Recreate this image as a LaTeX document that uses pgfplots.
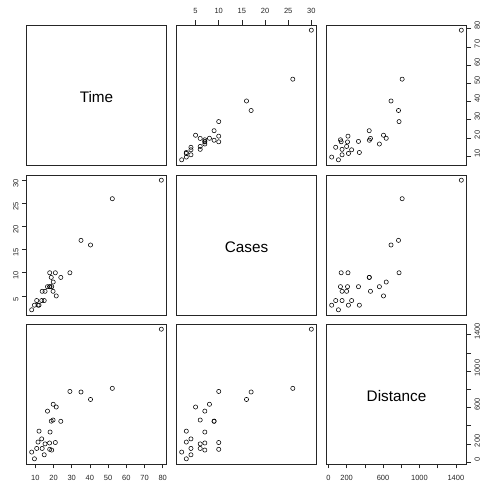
\documentclass[border=0pt]{standalone}
\usepackage{fontspec}
\setmainfont{Liberation Sans}
\usepackage{pgfplots}
\usepackage{pgfplotstable}
\pgfplotsset{compat=1.18}
\pgfplotstableread{
T C D
16.68 7 560
11.50 3 220
12.03 3 340
14.88 4 80
13.75 6 150
18.11 7 330
8.00 2 110
17.83 7 210
79.24 30 1460
21.50 5 605
40.33 16 688
21.00 10 215
13.50 4 255
19.75 6 462
24.00 9 448
29.00 10 776
15.35 6 200
19.00 7 132
9.50 3 36
35.10 17 770
17.90 10 140
52.32 26 810
18.75 9 450
19.83 8 635
10.75 4 150
}\data
\tikzset{diag/.style={font=\fontsize{15.3}{17}\selectfont, yshift=-2pt}}
\pgfplotsset{
  pan/.style={scale only axis, width=140pt, height=140pt, anchor=south west,
    xtick=\empty, ytick=\empty,
    axis line style={line width=0.8pt, black!85},
    tick style={black!85, line width=0.6pt},
    tick align=outside, major tick length=4.5pt,
    ticklabel style={font=\fontsize{7.5}{8}\selectfont, text=black!85},
    /pgf/number format/assume math mode=true},
  tx/.style={xmin=5.15,xmax=82.09}, ty/.style={ymin=5.15,ymax=82.09},
  cx/.style={xmin=0.88,xmax=31.12}, cy/.style={ymin=0.88,ymax=31.12},
  dx/.style={xmin=-20.96,xmax=1516.96}, dy/.style={ymin=-20.96,ymax=1516.96},
  pts/.style={only marks, mark=o, mark size=2.1pt, black, mark options={line width=0.55pt}},
}
\begin{document}
\begin{tikzpicture}
\path[use as bounding box] (0,0) rectangle (489pt,486pt);
% Row 1 (Time)
\begin{axis}[pan, tx, ty, at={(26.5pt,321pt)}]
\node[diag] at (rel axis cs:0.5,0.5) {Time};
\end{axis}
\begin{axis}[pan, cx, ty, at={(176.5pt,321pt)},
  xtick={5,10,...,30}, xtick pos=right, xticklabel pos=right,
  xticklabel style={yshift=3pt}]
\addplot[pts] table[x=C,y=T] {\data};
\end{axis}
\begin{axis}[pan, dx, ty, at={(326.5pt,321pt)},
  ytick={10,20,...,80}, ytick pos=right, yticklabel pos=right,
  yticklabel style={rotate=90, anchor=north, xshift=3pt}]
\addplot[pts] table[x=D,y=T] {\data};
\end{axis}
% Row 2 (Cases)
\begin{axis}[pan, tx, cy, at={(26.5pt,171pt)},
  ytick={5,10,...,30}, ytick pos=left, yticklabel pos=left,
  yticklabel style={rotate=90, anchor=south, xshift=-3pt}]
\addplot[pts] table[x=T,y=C] {\data};
\end{axis}
\begin{axis}[pan, cx, cy, at={(176.5pt,171pt)}]
\node[diag] at (rel axis cs:0.5,0.5) {Cases};
\end{axis}
\begin{axis}[pan, dx, cy, at={(326.5pt,171pt)}]
\addplot[pts] table[x=D,y=C] {\data};
\end{axis}
% Row 3 (Distance)
\begin{axis}[pan, tx, dy, at={(26.5pt,22pt)},
  xtick={10,20,...,80}, xtick pos=left, xticklabel pos=left,
  xticklabel style={yshift=-3pt}]
\addplot[pts] table[x=T,y=D] {\data};
\end{axis}
\begin{axis}[pan, cx, dy, at={(176.5pt,22pt)}]
\addplot[pts] table[x=C,y=D] {\data};
\end{axis}
\begin{axis}[pan, dx, dy, at={(326.5pt,22pt)},
  xtick={0,200,...,1400}, xticklabels={0,200,,600,,1000,,1400},
  xtick pos=left, xticklabel pos=left,
  xticklabel style={yshift=-3pt},
  ytick={0,200,...,1400}, yticklabels={0,200,,600,,1000,,1400},
  ytick pos=right, yticklabel pos=right,
  yticklabel style={rotate=90, anchor=north, xshift=3pt}]
\node[diag] at (rel axis cs:0.5,0.5) {Distance};
\end{axis}
\end{tikzpicture}
\end{document}
